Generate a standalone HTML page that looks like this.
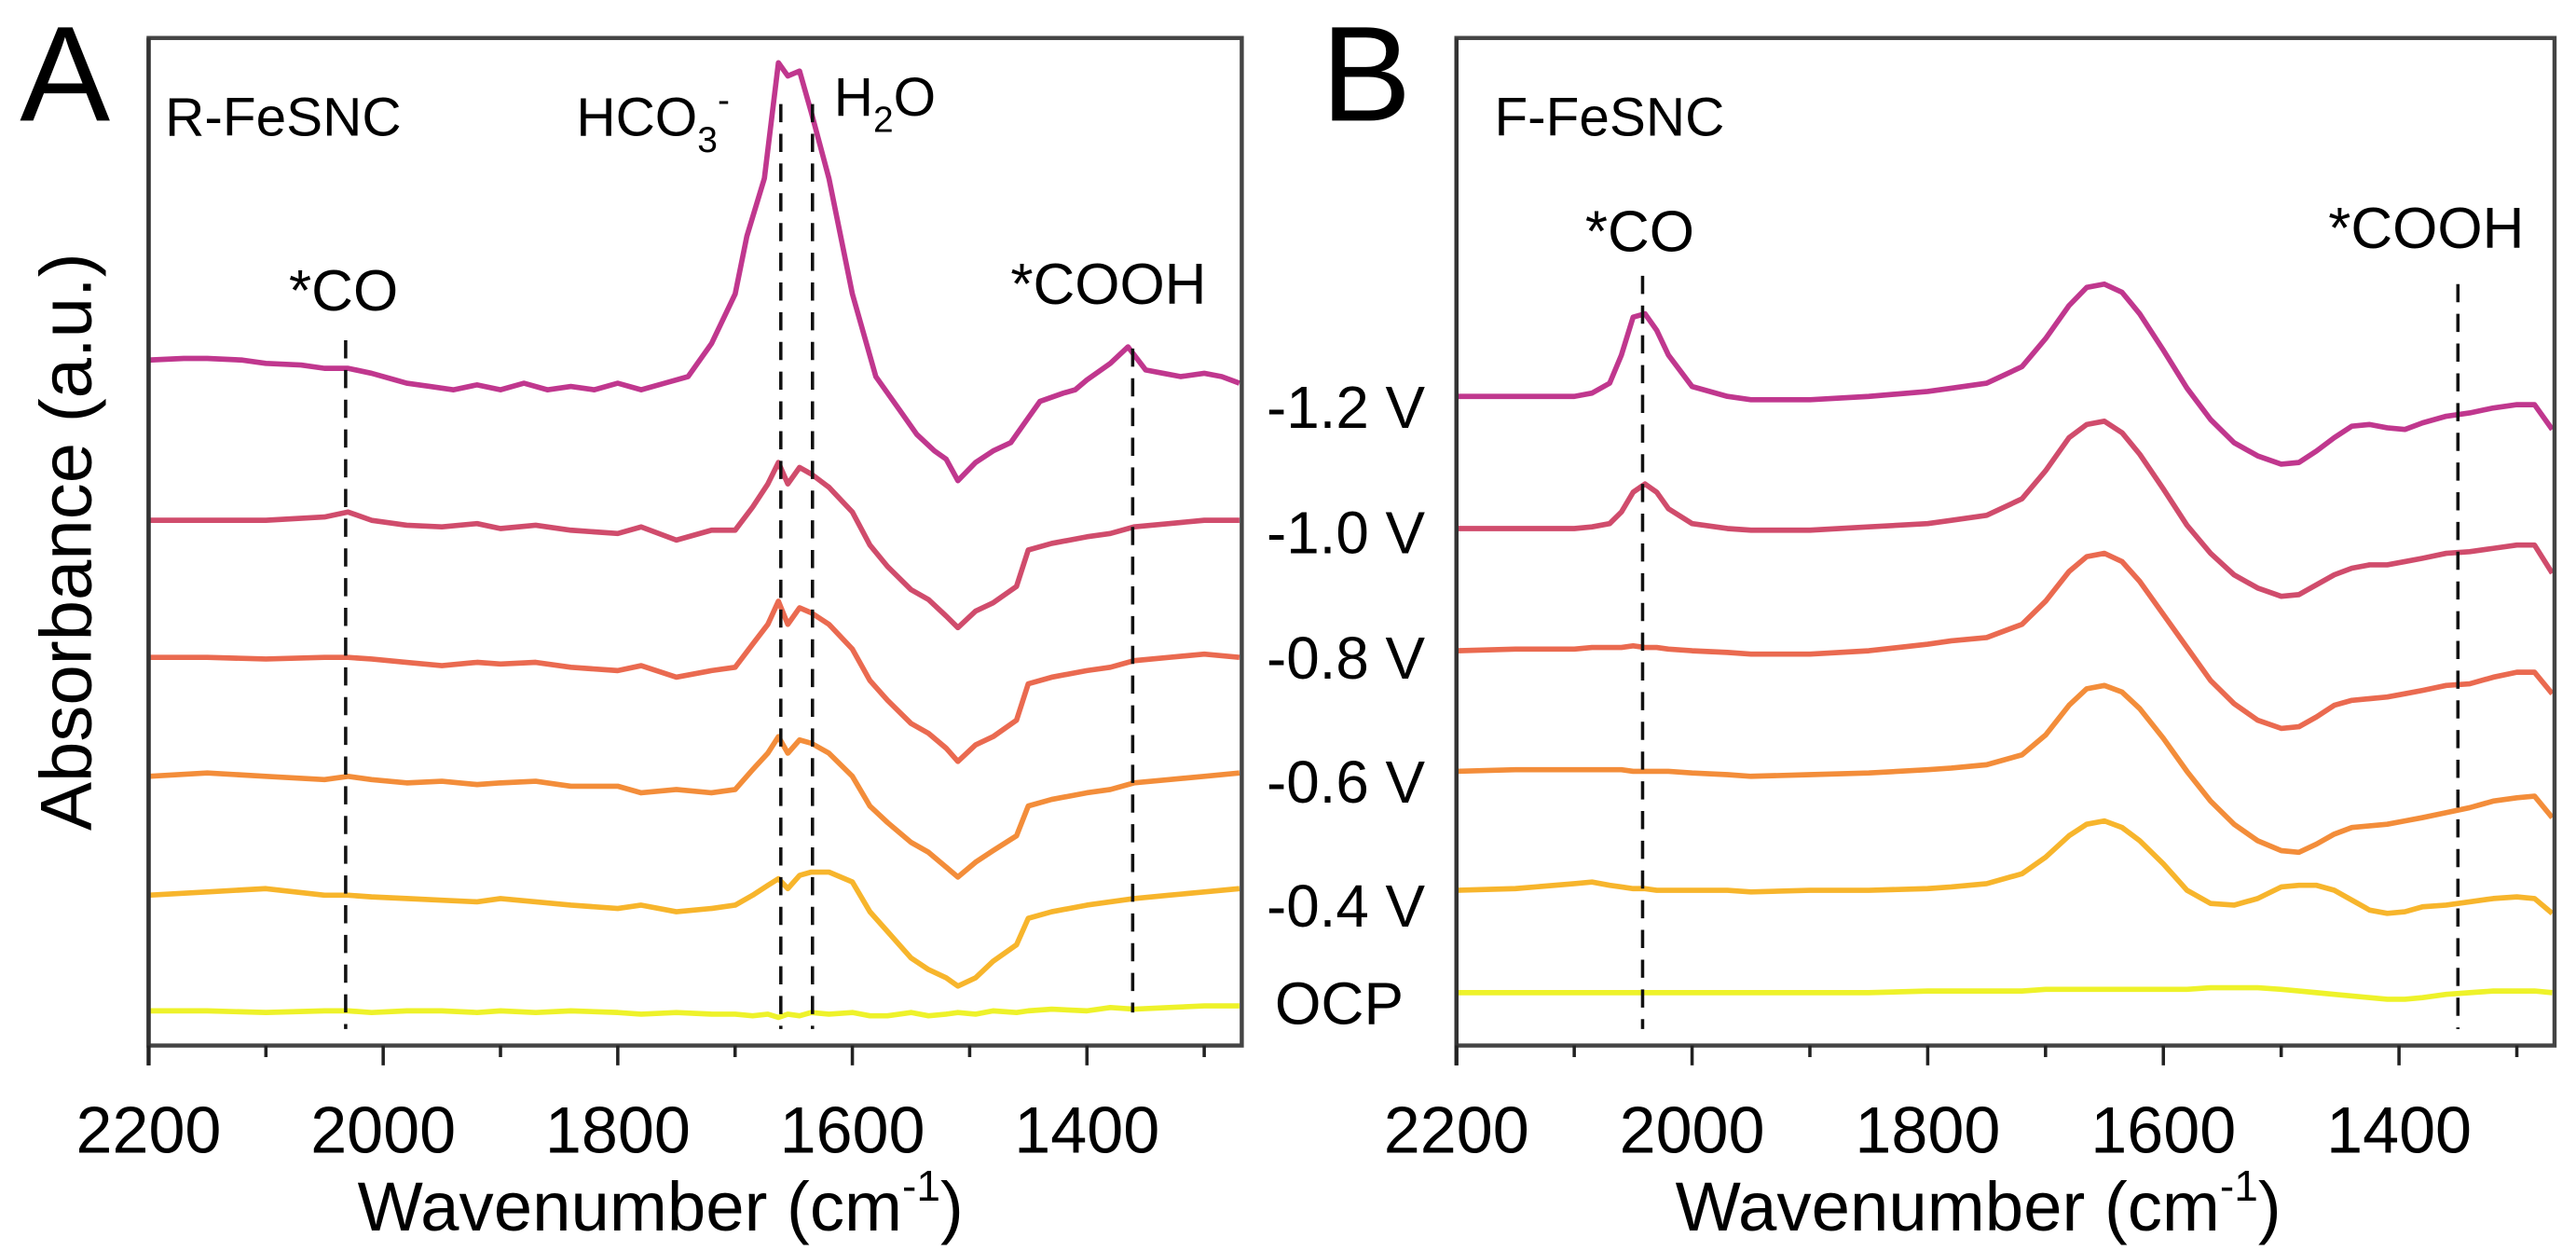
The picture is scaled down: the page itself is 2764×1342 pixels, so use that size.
<!DOCTYPE html>
<html><head><meta charset="utf-8"><style>
html,body{margin:0;padding:0;background:#fff;}
svg{display:block;font-family:"Liberation Sans",Arial,sans-serif;}
</style></head><body>
<svg id="chart" width="2764" height="1342" viewBox="0 0 1560 757.4" preserveAspectRatio="none" xmlns="http://www.w3.org/2000/svg">
<g id="panelA"></g>
<g id="panelB"></g>
<text x="12" y="73" font-size="82">A</text>
<text x="800" y="73" font-size="82">B</text>
<text x="100" y="82" font-size="33">R-FeSNC</text>
<text x="349" y="82" font-size="33">HCO<tspan font-size="22" dy="10">3</tspan><tspan font-size="22" dy="-24">-</tspan></text>
<text x="505" y="70" font-size="33">H<tspan font-size="22" dy="10">2</tspan><tspan dy="-10">O</tspan></text>
<text x="175" y="188" font-size="35">*CO</text>
<text x="612" y="184" font-size="35">*COOH</text>
<text x="905" y="82" font-size="33">F-FeSNC</text>
<text x="960" y="152" font-size="35">*CO</text>
<text x="1410" y="150" font-size="35">*COOH</text>
<text transform="translate(55,328) rotate(-90)" text-anchor="middle" font-size="44">Absorbance (a.u.)</text>
<text x="400" y="745" text-anchor="middle" font-size="42">Wavenumber (cm<tspan font-size="26" dy="-18">-1</tspan><tspan dy="18">)</tspan></text>
<text x="1198" y="745" text-anchor="middle" font-size="42">Wavenumber (cm<tspan font-size="26" dy="-18">-1</tspan><tspan dy="18">)</tspan></text>
<g id="vlabels"></g>
</svg>
<script>
const NS="http://www.w3.org/2000/svg";
const svg=document.getElementById('chart');
const xTicks=[2200,2000,1800,1600,1400];
const xMinor=[2100,1900,1700,1500,1300];
const seriesNames=['-1.2 V','-1.0 V','-0.8 V','-0.6 V','-0.4 V','OCP'];
const colors=['#c0378e','#d04c6c','#ea6a50','#f38d3a','#f7b52c','#eef22a'];
const offsetsA=[218,315,398,470,542,612];
const offsetsB=[240,320,394,467,539,601];
const labelY=[246,322,398,473,548,607];
const wnA1=[2200,2170,2150,2120,2100,2070,2050,2030,2010,1990,1980,1960,1940,1920,1900,1880,1860,1840,1820,1800,1780,1760,1740,1720,1700,1690,1675,1663,1655,1645,1635,1620,1600,1580,1560,1545,1530,1520,1510,1495,1480,1465,1450,1440,1420,1410,1400,1380,1365,1350,1335,1320,1300,1285,1270];
const vA1=[0,1,1,0,-2,-3,-5,-5,-8,-12,-14,-16,-18,-15,-18,-14,-18,-16,-18,-14,-18,-14,-10,10,40,75,110,180,172,175,150,110,40,-10,-30,-45,-55,-60,-73,-62,-55,-50,-35,-25,-20,-18,-12,-2,8,-6,-8,-10,-8,-10,-14];
const wnA=[2200,2150,2100,2050,2030,2010,1980,1950,1920,1900,1870,1840,1800,1780,1750,1720,1700,1685,1672,1663,1655,1645,1635,1620,1600,1585,1570,1550,1535,1520,1510,1495,1480,1460,1450,1430,1400,1380,1360,1330,1300,1270];
const vA2=[0,0,0,2,5,0,-3,-4,-2,-5,-3,-6,-8,-4,-12,-6,-6,8,22,35,22,32,28,20,5,-15,-28,-42,-48,-58,-65,-55,-50,-40,-18,-14,-10,-8,-4,-2,0,0];
const vA3=[0,0,-1,0,0,-1,-3,-5,-3,-4,-3,-6,-8,-5,-12,-8,-6,8,20,34,20,30,27,20,5,-14,-26,-40,-46,-55,-63,-53,-48,-38,-16,-12,-8,-6,-2,0,2,0];
const vA4=[0,2,0,-2,0,-2,-4,-3,-5,-4,-3,-6,-6,-10,-8,-10,-8,4,14,24,14,22,20,14,0,-18,-28,-40,-46,-55,-61,-52,-45,-36,-18,-14,-10,-8,-4,-2,0,2];
const vA5=[0,2,4,0,0,-1,-2,-3,-4,-2,-4,-6,-8,-6,-10,-8,-6,0,6,10,4,12,14,14,8,-10,-22,-38,-45,-50,-55,-50,-40,-30,-14,-10,-6,-4,-2,0,2,4];
const vA6=[0,0,-1,0,0,-1,0,0,-1,0,-1,0,-1,-2,-1,-2,-2,-3,-2,-4,-2,-3,-1,-2,-1,-3,-3,-1,-3,-2,-1,-2,0,-1,0,1,0,2,1,2,3,3];
const wnB=[2200,2150,2100,2085,2070,2060,2050,2040,2030,2020,2000,1970,1950,1900,1850,1800,1780,1750,1720,1700,1680,1665,1650,1635,1620,1600,1580,1560,1540,1520,1500,1485,1470,1455,1440,1425,1410,1395,1380,1360,1340,1320,1300,1285,1270];
const vB1=[0,0,0,2,8,25,48,50,40,25,6,0,-2,-2,0,3,5,8,18,35,55,66,68,63,50,28,5,-14,-28,-36,-41,-40,-33,-25,-18,-17,-19,-20,-16,-12,-10,-7,-5,-5,-20];
const vB2=[0,0,0,1,3,10,22,27,22,12,3,0,-1,-1,1,3,5,8,18,35,55,63,65,58,45,24,2,-15,-28,-36,-41,-40,-34,-28,-24,-22,-22,-20,-18,-15,-14,-12,-10,-10,-27];
const vB3=[0,1,1,2,2,2,3,2,2,1,0,-1,-2,-2,0,4,6,8,16,30,48,57,59,54,42,22,2,-18,-32,-42,-47,-46,-40,-33,-30,-29,-28,-26,-24,-21,-20,-16,-13,-13,-26];
const vB4=[0,1,1,1,1,1,0,0,0,0,-1,-2,-3,-2,-1,1,2,4,10,22,40,50,52,48,38,20,0,-18,-32,-42,-48,-49,-44,-38,-34,-33,-32,-30,-28,-25,-22,-18,-16,-15,-28];
const vB5=[0,1,4,5,3,2,1,1,0,0,0,0,-1,0,0,1,2,4,10,20,33,40,42,38,30,16,0,-8,-9,-5,2,3,3,0,-6,-12,-14,-13,-10,-9,-7,-5,-4,-5,-14];
const vB6=[0,0,0,0,0,0,0,0,0,0,0,0,0,0,0,1,1,1,1,2,2,2,2,2,2,2,2,3,3,3,2,1,0,-1,-2,-3,-4,-4,-3,-1,0,1,1,1,0];
const seriesA=[vA1,vA2,vA3,vA4,vA5,vA6];
const seriesB=[vB1,vB2,vB3,vB4,vB5,vB6];
const dashA=[{w:2032,top:206,bot:623},{w:1661,top:63,bot:623},{w:1634,top:63,bot:623},{w:1361,top:211,bot:613}];
const dashB=[{w:2042,top:167,bot:623},{w:1350,top:172,bot:623}];

function mk(tag,attrs,parent){const e=document.createElementNS(NS,tag);for(const k in attrs)e.setAttribute(k,attrs[k]);(parent||svg).appendChild(e);return e;}

function drawPanel(gid,left,right,top,bottom,offsets,series,wnFirst,wnRest,dashes,pname){
  const g=document.getElementById(gid);
  const wMax=2200,wMin=1268;
  const X=w=>left+(wMax-w)/(wMax-wMin)*(right-left);
  series.forEach((vals,i)=>{
    const wn=(i===0&&wnFirst)?wnFirst:wnRest;
    const d=vals.map((v,j)=>(j?'L':'M')+X(wn[j]).toFixed(1)+' '+(offsets[i]-v).toFixed(1)).join(' ');
    const p=mk('path',{d:d,fill:'none',stroke:colors[i],'stroke-width':3.2,'stroke-linejoin':'round'},g);
    
    
  });
  dashes.forEach(dl=>{
    const l=mk('line',{x1:X(dl.w),x2:X(dl.w),y1:dl.top,y2:dl.bot,stroke:'#111','stroke-width':2,'stroke-dasharray':'11 7'},g);
    
    
  });
  const f=mk('rect',{x:left,y:top,width:right-left,height:bottom-top,fill:'none',stroke:'#444','stroke-width':2.5},g);
  
  
  mk('line',{x1:left,x2:left,y1:top,y2:bottom+12,stroke:'#333','stroke-width':2.5},g);
  xTicks.forEach(t=>{
    const l=mk('line',{x1:X(t),x2:X(t),y1:bottom,y2:bottom+12,stroke:'#222','stroke-width':2},g);
    
    
    const tx=mk('text',{x:X(t),y:698,'text-anchor':'middle','font-size':40,textLength:88,lengthAdjust:'spacingAndGlyphs'},g);
    tx.textContent=t;
    
    
  });
  xMinor.forEach(t=>{
    const l=mk('line',{x1:X(t),x2:X(t),y1:bottom,y2:bottom+7,stroke:'#222','stroke-width':2},g);
    
    
  });
}
drawPanel('panelA',90,752,23,633,offsetsA,seriesA,wnA1,wnA,dashA,'panel-a');
drawPanel('panelB',882,1547,23,633,offsetsB,seriesB,null,wnB,dashB,'panel-b');
const vg=document.getElementById('vlabels');
seriesNames.forEach((n,i)=>{
  const t=mk('text',{x:i===5?772:767,y:labelY[i]+13,'font-size':36},vg);
  t.textContent=n;
  
  
});
</script>
</body></html>
